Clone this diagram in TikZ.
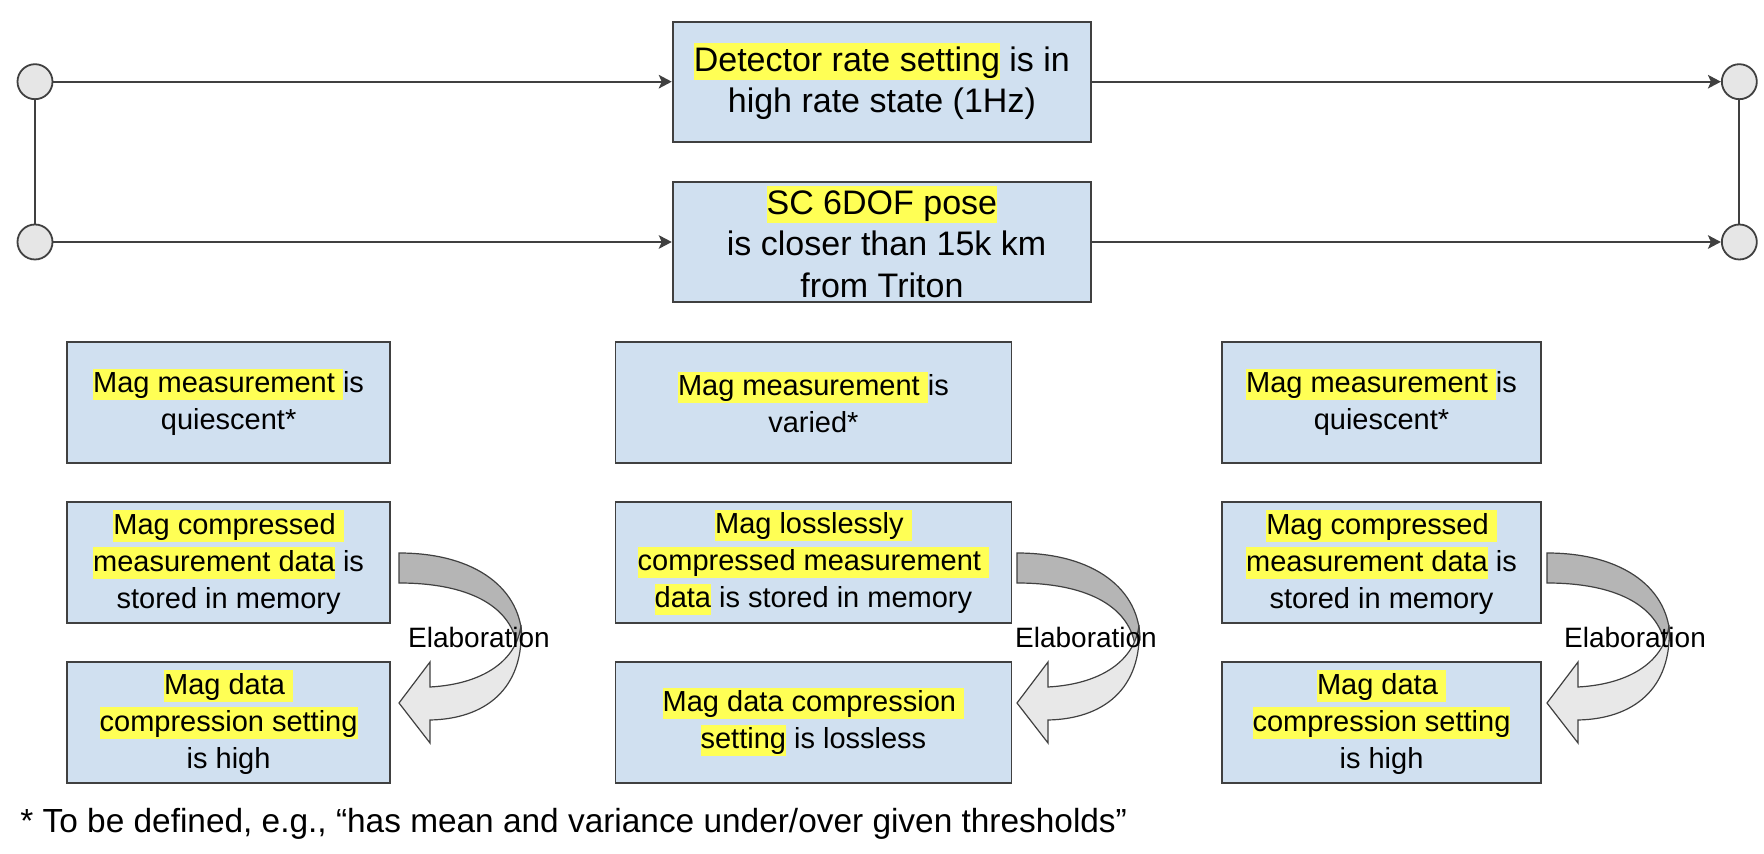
\documentclass[tikz,border=0pt]{standalone}
\usepackage{fontspec}
\setmainfont{Liberation Sans}
\usetikzlibrary{arrows.meta}
\definecolor{boxfill}{HTML}{D0E0F0}
\definecolor{edge}{HTML}{404040}
\definecolor{hly}{HTML}{FFFF55}
\definecolor{darkband}{HTML}{B5B5B5}
\definecolor{lightband}{HTML}{E8E8E8}
\definecolor{circfill}{HTML}{E6E6E6}
\newcommand\hlt[1]{{\setlength{\fboxsep}{0pt}\colorbox{hly}{\rule[-0.26em]{0pt}{1.08em}#1}}}
\tikzset{
  bigbox/.style={draw=edge, line width=0.9pt, fill=boxfill, inner sep=0pt, align=center,
    minimum width=209.2pt, minimum height=60pt, font=\fontsize{17pt}{20.85pt}\selectfont},
  rowbox/.style={draw=edge, line width=0.9pt, fill=boxfill, inner sep=0pt, align=center,
    minimum height=60.5pt, font=\fontsize{14.5pt}{18.5pt}\selectfont},
  endpt/.style={circle, draw=edge, line width=0.9pt, fill=circfill, minimum size=17.5pt, inner sep=0pt},
  conn/.style={draw=edge, line width=0.85pt},
  tip/.style={-{Stealth[length=6.5pt, width=6.8pt, inset=1.5pt]}},
  elabtext/.style={font=\fontsize{14pt}{17pt}\selectfont, anchor=base, inner sep=0pt},
  elab/.pic={
    \draw[edge, line width=0.6pt, fill=darkband]
      (0,0) .. controls (78,0) and (123,37) .. (123,87) -- (118,92)
      .. controls (111,52) and (68,30) .. (0,30) -- cycle;
    \draw[edge, line width=0.6pt, fill=lightband]
      (122,72) .. controls (126,137) and (85,166) .. (31,167) -- (31,190) -- (0,150)
      -- (31,109) -- (31,134) .. controls (85,131) and (118,107) .. (122,72) -- cycle;
  }
}
\begin{document}
\begin{tikzpicture}[x=0.5pt, y=-0.5pt]
\useasboundingbox (0,0) rectangle (1764,854);

% top boxes
\node[bigbox] (top1) at (881.85,81.7) {\hlt{Detector rate setting} is in\\high rate state (1Hz)};
\node[bigbox] (top2) at (881.85,242) {\hlt{SC 6DOF pose}\\\hspace*{0.28em}is closer than 15k km\\from Triton};

% end points
\node[endpt] (l1) at (35,81.7) {};
\node[endpt] (l2) at (35,242) {};
\node[endpt] (r1) at (1739.3,81.7) {};
\node[endpt] (r2) at (1739.3,242) {};

\draw[conn] (l1) -- (l2);
\draw[conn] (r1) -- (r2);
\draw[conn, tip] (l1) -- (top1);
\draw[conn, tip] (l2) -- (top2);
\draw[conn, tip] (top1) -- (r1);
\draw[conn, tip] (top2) -- (r2);

% column 1
\node[rowbox, minimum width=161.4pt] (a1) at (228.6,402.2) {\hlt{Mag measurement }is\\quiescent*};
\node[rowbox, minimum width=161.4pt] (a2) at (228.6,562.2) {\hlt{Mag compressed }\\\hlt{measurement data} is\\stored in memory};
\node[rowbox, minimum width=161.4pt] (a3) at (228.6,722.2) {\hlt{Mag data }\\\hlt{compression setting}\\is high};

% column 2
\node[rowbox, minimum width=198pt] (b1) at (813.4,402.2) {\hlt{Mag measurement }is\\varied*};
\node[rowbox, minimum width=198pt] (b2) at (813.4,562.2) {\hlt{Mag losslessly }\\\hlt{compressed measurement }\\\hlt{data} is stored in memory};
\node[rowbox, minimum width=198pt] (b3) at (813.4,722.2) {\hlt{Mag data compression }\\\hlt{setting} is lossless};

% column 3
\node[rowbox, minimum width=159.7pt] (c1) at (1381.5,402.2) {\hlt{Mag measurement }is\\quiescent*};
\node[rowbox, minimum width=159.7pt] (c2) at (1381.5,562.2) {\hlt{Mag compressed }\\\hlt{measurement data} is\\stored in memory};
\node[rowbox, minimum width=159.7pt] (c3) at (1381.5,722.2) {\hlt{Mag data }\\\hlt{compression setting}\\is high};

% curved elaboration arrows
\pic at (399,553) {elab};
\pic at (1017,553) {elab};
\pic at (1547,553) {elab};
\node[elabtext] (e1) at (479,647) {Elaboration};
\node[elabtext] (e2) at (1086,647) {Elaboration};
\node[elabtext] (e3) at (1635,647) {Elaboration};

% footnote
\node[anchor=base west, inner sep=0pt, font=\fontsize{16.7pt}{20pt}\selectfont] (note) at (20,832)
  {* To be defined, e.g., “has mean and variance under/over given thresholds”};
\end{tikzpicture}
\end{document}
